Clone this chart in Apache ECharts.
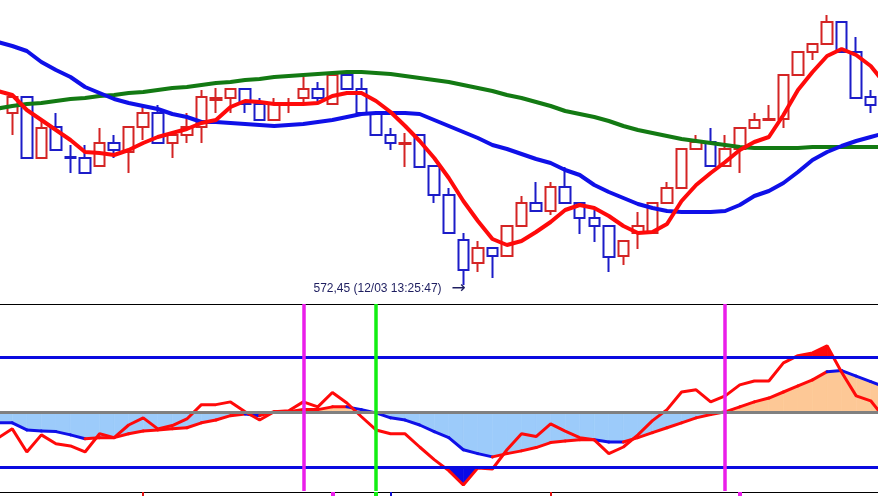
<!DOCTYPE html>
<html>
<head>
<meta charset="utf-8">
<script src="https://cdn.jsdelivr.net/npm/echarts@6/dist/echarts.min.js"></script>
<style>
  html, body, #main { width: 100%; height: 100%; margin: 0; background: #fff; }
</style>
</head>
<body>
<div id="main"></div>
<script>
// ---- price panel (one candle per bar; first and last bar sit just off the edges) ----
var opens = [null, 589.65, 591.25, 585.15, 588.25, 585.25, 585.15, 584.35, 586.65, 585.75, 588.25,
  589.65, 586.65, 587.45, 588.25, 590.95, 591.15, 592.05, 590.55, 588.95, 590.45,
  591.15, 592.05, 590.55, 593.45, 592.05, 589.65, 587.45, 586.55, 587.45, 584.35,
  581.45, 576.95, 574.65, 576.15, 575.35, 578.35, 580.65, 579.85, 582.25, 580.65,
  579.15, 578.35, 575.35, 577.65, 577.65, 580.65, 582.15, 586.05, 586.75, 584.35,
  586.05, 588.15, 588.95, 589.05, 593.45, 595.75, 596.55, 598.75, 595.75, 591.25, null];
var closes = [null, 591.25, 585.15, 588.15, 585.95, 585.15, 583.65, 586.65, 585.95, 588.25, 589.65,
  586.65, 587.45, 588.25, 591.25, 591.15, 592.05, 590.55, 588.95, 590.55, 590.55,
  592.05, 591.15, 593.45, 592.05, 589.65, 587.45, 586.65, 586.65, 584.25, 581.45,
  577.65, 573.95, 576.15, 575.35, 578.35, 580.65, 579.85, 582.25, 580.65, 579.15,
  578.35, 575.25, 576.85, 578.35, 580.65, 582.15, 586.05, 586.75, 584.35, 586.05,
  588.15, 588.95, 589.05, 593.45, 595.75, 596.55, 598.75, 595.75, 591.15, 590.45, null];
var lows = [null, 587.45, 585.15, 585.15, 585.95, 583.65, 583.65, 584.35, 585.15, 583.65, 586.95,
  586.65, 585.15, 586.65, 586.65, 589.65, 589.65, 589.65, 588.95, 588.95, 589.65,
  590.55, 590.55, 590.55, 592.05, 589.65, 587.45, 585.95, 584.25, 584.25, 580.65,
  577.65, 572.45, 573.75, 573.15, 575.35, 578.35, 579.85, 579.45, 580.65, 577.55,
  576.75, 573.75, 574.45, 576.05, 577.65, 580.65, 582.15, 586.05, 584.35, 584.35,
  583.65, 588.15, 588.95, 588.15, 593.45, 594.95, 596.55, 595.75, 591.15, 589.65, null];
var highs = [null, 591.25, 591.25, 588.95, 589.65, 586.45, 586.45, 588.15, 587.45, 588.25, 590.25,
  590.45, 587.45, 589.65, 591.95, 592.15, 592.05, 592.05, 591.15, 591.15, 591.15,
  593.25, 592.75, 593.45, 593.45, 593.15, 589.65, 588.15, 587.65, 587.45, 584.45,
  582.15, 577.65, 576.85, 576.15, 578.35, 581.35, 582.75, 582.75, 584.25, 580.65,
  579.95, 578.35, 576.85, 579.75, 580.65, 582.75, 586.05, 587.45, 588.15, 587.45,
  588.15, 589.65, 590.45, 593.45, 595.75, 596.55, 599.45, 598.75, 597.25, 591.95, null];

var maShort = [591.85, 591.45, 589.95, 588.95, 587.95, 586.95, 585.75, 585.65, 585.45, 585.95, 586.65,
  587.25, 587.65, 588.05, 588.65, 588.95, 590.25, 590.85, 590.75, 590.55, 590.55,
  590.55, 590.65, 591.35, 591.65, 591.65, 590.85, 589.75, 588.35, 586.85, 585.15,
  583.15, 580.85, 578.85, 577.05, 576.45, 576.85, 577.75, 578.75, 579.95, 580.45,
  580.15, 579.35, 578.35, 577.65, 577.75, 578.55, 580.85, 582.45, 583.65, 584.75,
  585.95, 586.75, 587.25, 589.45, 591.95, 593.75, 595.35, 596.05, 595.45, 594.35, 592.55];
var maMid = [596.75, 596.35, 595.85, 594.75, 593.95, 593.25, 592.25, 591.65, 591.05, 590.65, 590.35,
  590.05, 589.55, 589.25, 588.75, 588.75, 588.65, 588.55, 588.45, 588.35, 588.45,
  588.55, 588.75, 588.95, 589.25, 589.55, 589.65, 589.65, 589.65, 589.55, 588.95,
  588.35, 587.75, 587.15, 586.45, 586.05, 585.55, 585.05, 584.65, 583.95, 583.45,
  582.45, 581.75, 581.15, 580.55, 580.15, 579.85, 579.75, 579.75, 579.75, 579.85,
  580.45, 581.35, 581.85, 582.65, 583.75, 584.95, 585.75, 586.35, 586.85, 587.25, 587.65];
var maLong = [590.10, 590.35, 590.55, 590.65, 590.85, 591.05, 591.15, 591.35, 591.45, 591.65, 591.75,
  591.95, 592.15, 592.25, 592.45, 592.65, 592.75, 592.95, 593.05, 593.25, 593.35,
  593.45, 593.55, 593.65, 593.75, 593.75, 593.65, 593.55, 593.35, 593.15, 592.95,
  592.75, 592.45, 592.15, 591.85, 591.45, 591.15, 590.75, 590.35, 589.85, 589.55,
  589.25, 588.85, 588.35, 587.95, 587.65, 587.35, 587.05, 586.85, 586.65, 586.45,
  586.25, 586.15, 586.15, 586.15, 586.15, 586.25, 586.25, 586.25, 586.25, 586.25, 586.25];

// ---- oscillator panel ----
var oscFast = [-0.48, -0.31, -0.73, -0.42, -0.58, -0.62, -0.73, -0.40, -0.47, -0.24, -0.11,
  -0.31, -0.25, -0.13, 0.13, 0.13, 0.18, 0.00, -0.15, 0.00, 0.02,
  0.18, 0.09, 0.35, 0.16, -0.09, -0.33, -0.40, -0.40, -0.64, -0.87,
  -1.07, -1.33, -1.02, -1.04, -0.69, -0.40, -0.45, -0.22, -0.35, -0.47,
  -0.51, -0.76, -0.64, -0.42, -0.16, 0.04, 0.36, 0.40, 0.18, 0.29,
  0.49, 0.56, 0.56, 0.89, 1.02, 1.07, 1.20, 0.72, 0.29, 0.20, -0.13];
var oscSlow = [-0.20, -0.20, -0.33, -0.35, -0.36, -0.42, -0.49, -0.47, -0.47, -0.40, -0.35,
  -0.33, -0.31, -0.29, -0.20, -0.15, -0.07, -0.04, -0.07, 0.00, 0.00,
  0.04, 0.04, 0.09, 0.09, 0.04, -0.02, -0.11, -0.15, -0.24, -0.36,
  -0.47, -0.69, -0.76, -0.82, -0.76, -0.71, -0.65, -0.56, -0.53, -0.51,
  -0.51, -0.55, -0.55, -0.47, -0.38, -0.29, -0.20, -0.11, -0.05, 0.00,
  0.09, 0.18, 0.25, 0.36, 0.47, 0.58, 0.73, 0.75, 0.65, 0.55, 0.45];
var oscLevels = [1, -1];

// signal bars (vertical lines) and the marks peeking in from the panel below
var magentaAt = [21, 50];
var greenAt = [26];
var stripRed = [10, 38];
var stripMagenta = [23, 51];
var stripGreen = [26];
var stripBlue = [27];

var lowTime = '12/03 13:25:47';
var lowIdx = 32;

var cats = [];
for (var i = 0; i < opens.length; i++) cats.push(String(i));

var candles = [];
for (var i = 0; i < opens.length; i++) {
  candles.push(opens[i] == null ? ['-', '-', '-', '-'] : [opens[i], closes[i], lows[i], highs[i]]);
}

var segs = [];
for (var i = 0; i < oscSlow.length - 1; i++) segs.push([i, oscSlow[i]]);

var RED = '#ff0a0a', BLUE = '#0f10e8';

// fill between a curve and a base level, only on the side given by sign
function bandFill(vals, base, sign, color) {
  return function (params, api) {
    var i = params.dataIndex;
    var a0 = vals[i], a1 = vals[i + 1];
    var d0 = sign * (a0 - base), d1 = sign * (a1 - base);
    if (d0 <= 0 && d1 <= 0) return { type: 'group', children: [] };
    var p0 = api.coord([i, a0]), p1 = api.coord([i + 1, a1]);
    var b0 = api.coord([i, base]), b1 = api.coord([i + 1, base]);
    var pts;
    if (d0 >= 0 && d1 >= 0) {
      pts = [b0, p0, p1, b1];
    } else {
      var t = d0 / (d0 - d1);
      var c = [p0[0] + (p1[0] - p0[0]) * t, b0[1]];
      pts = d0 > 0 ? [b0, p0, c] : [c, p1, b1];
    }
    return { type: 'polygon', shape: { points: pts }, style: { fill: color, stroke: color, lineWidth: 0.6 } };
  };
}

function fillSeries(vals, base, sign, color) {
  return {
    type: 'custom', xAxisIndex: 1, yAxisIndex: 1, z: 1, silent: true,
    renderItem: bandFill(vals, base, sign, color),
    data: segs, encode: { x: 0, y: 1 }
  };
}

function vLines(idxs, color, width) {
  return idxs.map(function (k) { return { xAxis: k, lineStyle: { color: color, width: width, type: 'solid' } }; });
}

var axisEdge = {
  axisLine: { show: true, onZero: false, lineStyle: { color: '#000', width: 1 } },
  axisTick: { show: false }, axisLabel: { show: false }, splitLine: { show: false }
};

// bars are 14.55px apart; one hidden bar hangs off each side of the window
var gridX = { left: -9.55, width: 902.1, outerBoundsMode: 'none', containLabel: false };

var chart = echarts.init(document.getElementById('main'));
var option = {
  animation: false,
  backgroundColor: '#fff',
  grid: [
    Object.assign({ top: 0, height: 304 }, gridX),
    Object.assign({ top: 304, height: 187 }, gridX),
    Object.assign({ top: 492, height: 20 }, gridX)
  ],
  xAxis: [
    { type: 'category', gridIndex: 0, data: cats, boundaryGap: true, show: false },
    Object.assign({ type: 'category', gridIndex: 1, data: cats, boundaryGap: true, position: 'top' }, axisEdge),
    Object.assign({ type: 'category', gridIndex: 2, data: cats, boundaryGap: true, position: 'top' }, axisEdge)
  ],
  yAxis: [
    { type: 'value', gridIndex: 0, min: 570.55, max: 600.95, show: false },
    { type: 'value', gridIndex: 1, min: -1.44, max: 1.96, show: false },
    { type: 'value', gridIndex: 2, min: 0, max: 1, show: false }
  ],
  series: [
    {
      type: 'candlestick', xAxisIndex: 0, yAxisIndex: 0, z: 2,
      data: candles, barWidth: 11,
      itemStyle: {
        color: 'transparent', color0: 'transparent',
        borderColor: '#d42424', borderColor0: '#1c1cc8', borderWidth: 2
      },
      markPoint: {
        symbol: 'circle', symbolSize: 1, itemStyle: { color: 'transparent' },
        silent: true,
        data: [{ coord: [lowIdx, lows[lowIdx]] }],
        label: {
          show: true, position: 'left', distance: 0, offset: [3, 4],
          fontFamily: 'Liberation Sans', fontSize: 12, color: '#1e1e60',
          formatter: function () {
            return lows[lowIdx].toFixed(2).replace('.', ',') + ' (' + lowTime + ')   {a|\u2192}';
          },
          rich: { a: { fontSize: 17, color: '#1e1e60', fontFamily: 'DejaVu Sans' } }
        }
      }
    },
    { type: 'line', xAxisIndex: 0, yAxisIndex: 0, z: 3, data: maLong, showSymbol: false,
      lineStyle: { color: '#137a13', width: 4 } },
    { type: 'line', xAxisIndex: 0, yAxisIndex: 0, z: 4, data: maMid, showSymbol: false,
      lineStyle: { color: BLUE, width: 4 } },
    { type: 'line', xAxisIndex: 0, yAxisIndex: 0, z: 5, data: maShort, showSymbol: false,
      lineStyle: { color: RED, width: 4 } },

    // oscillator fills
    fillSeries(oscSlow, 0, -1, '#9ccbfa'),
    fillSeries(oscSlow, 0, 1, '#fdc896'),
    fillSeries(oscFast, oscLevels[1], -1, '#0a0ae6'),
    fillSeries(oscFast, oscLevels[0], 1, '#ff0a0a'),

    // reference levels
    {
      type: 'line', xAxisIndex: 1, yAxisIndex: 1, z: 2, data: [], silent: true,
      markLine: {
        symbol: ['none', 'none'], silent: true, label: { show: false }, animation: false,
        data: [
          { yAxis: 0, lineStyle: { color: '#808080', width: 3, type: 'solid' } },
          { yAxis: oscLevels[0], lineStyle: { color: '#0a0ae0', width: 3, type: 'solid' } },
          { yAxis: oscLevels[1], lineStyle: { color: '#0a0ae0', width: 3, type: 'solid' } }
        ]
      }
    },
    // slow line, blue while the fast line is under it
    {
      type: 'custom', xAxisIndex: 1, yAxisIndex: 1, z: 3, silent: true,
      data: segs, encode: { x: 0, y: 1 },
      renderItem: function (params, api) {
        var i = params.dataIndex;
        var p0 = api.coord([i, oscSlow[i]]), p1 = api.coord([i + 1, oscSlow[i + 1]]);
        var col = oscFast[i + 1] >= oscSlow[i + 1] ? RED : BLUE;
        return { type: 'line', shape: { x1: p0[0], y1: p0[1], x2: p1[0], y2: p1[1] },
          style: { stroke: col, lineWidth: 3, lineCap: 'round' } };
      }
    },
    { type: 'line', xAxisIndex: 1, yAxisIndex: 1, z: 4, data: oscFast, showSymbol: false,
      lineStyle: { color: RED, width: 3 } },
    {
      type: 'line', xAxisIndex: 1, yAxisIndex: 1, z: 5, data: [], silent: true,
      markLine: {
        symbol: ['none', 'none'], silent: true, label: { show: false }, animation: false,
        data: vLines(magentaAt, '#ea1eea', 3.5).concat(vLines(greenAt, '#12ee12', 3.5))
      }
    },
    {
      type: 'line', xAxisIndex: 2, yAxisIndex: 2, data: [], silent: true,
      markLine: {
        symbol: ['none', 'none'], silent: true, label: { show: false }, animation: false,
        data: vLines(stripRed, '#e01414', 2).concat(vLines(stripMagenta, '#ea1eea', 4),
          vLines(stripGreen, '#12ee12', 4), vLines(stripBlue, '#1010d0', 2))
      }
    }
  ]
};
chart.setOption(option);
</script>
</body>
</html>
